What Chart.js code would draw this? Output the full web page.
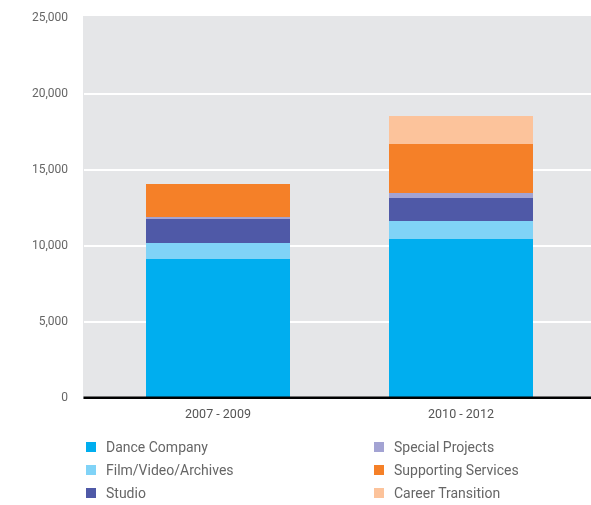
<!DOCTYPE html>
<html lang="en">
<head>
  <meta charset="UTF-8">
  <title>Funding by program</title>
  <style>
    html, body { margin: 0; padding: 0; background: #fff; }
    .wrap { position: relative; width: 591px; height: 505px; }
    #myChart { position: absolute; left: 0; top: 0; }
    .legend {
      position: absolute; left: 86px; top: 438px; width: 505px;
      display: grid; grid-template-columns: 288px 200px; grid-auto-flow: column;
      grid-template-rows: repeat(3, 23px);
      font-family: Roboto, "DejaVu Sans", sans-serif; font-size: 14px; color: #666;
    }
    .legend div { display: flex; align-items: center; height: 18px; }
    .legend span.box { width: 10px; height: 10px; margin-right: 10px; display: inline-block; }
  </style>
</head>
<body>
  <div class="wrap">
    <canvas id="myChart" width="591" height="505"></canvas>
    <div class="legend" id="legend"></div>
  </div>
<script src="https://cdn.jsdelivr.net/npm/chart.js@4.4.0/dist/chart.umd.min.js"></script>
<script>
const periods = ['2007 - 2009', '2010 - 2012'];
const seriesNames = ['Dance Company', 'Film/Video/Archives', 'Studio', 'Special Projects', 'Supporting Services', 'Career Transition'];
const danceCompany = [9140, 10460];
const filmVideo = [1060, 1180];
const studio = [1580, 1520];
const specialProjects = [130, 330];
const supportingServices = [2170, 3220];
const careerTransition = [0, 1840];
const yTicks = [0, 5000, 10000, 15000, 20000, 25000];
const colors = ['#00aeef', '#80d3f7', '#4f59a7', '#a3a3d3', '#f58028', '#fcc39b'];

const values = [danceCompany, filmVideo, studio, specialProjects, supportingServices, careerTransition];

// gray panel, white grid lines and the black base line run wider than the bars' area
const backdrop = {
  id: 'backdrop',
  beforeDatasetsDraw(chart) {
    const { ctx, chartArea, scales } = chart;
    const left = chartArea.left - 13.5;
    const right = chart.width;
    ctx.save();
    ctx.fillStyle = '#e5e6e8';
    ctx.fillRect(left, chartArea.top - 2, right - left, chartArea.bottom - chartArea.top + 2);
    ctx.strokeStyle = '#ffffff';
    ctx.lineWidth = 2;
    yTicks.forEach(v => {
      if (v === 0 || v === 25000) return;
      const y = Math.round(scales.y.getPixelForValue(v));
      ctx.beginPath();
      ctx.moveTo(left + 1, y);
      ctx.lineTo(right, y);
      ctx.stroke();
    });
    ctx.restore();
  },
  afterDatasetsDraw(chart) {
    const { ctx, chartArea, scales } = chart;
    const y = scales.y.getPixelForValue(0);
    ctx.save();
    ctx.fillStyle = '#c8c9cb';
    ctx.fillRect(chartArea.left - 13, y, chart.width, 1);
    ctx.fillStyle = '#000';
    ctx.fillRect(chartArea.left - 13, y - 1.5, chart.width, 2.5);
    ctx.restore();
  }
};

const ctx = document.getElementById('myChart').getContext('2d');
const chart = new Chart(ctx, {
  type: 'bar',
  data: {
    labels: periods,
    datasets: seriesNames.map((name, i) => ({
      label: name,
      data: values[i],
      backgroundColor: colors[i],
      borderWidth: 0,
      barPercentage: 1,
      categoryPercentage: 144 / 243
    }))
  },
  options: {
    responsive: false,
    animation: false,
    layout: { padding: { top: 18, right: 8.5, bottom: 77, left: 0 } },
    plugins: { legend: { display: false }, tooltip: { enabled: false } },
    scales: {
      x: {
        stacked: true,
        grid: { display: false, drawTicks: false },
        border: { display: false },
        ticks: { padding: 9, color: '#555', font: { family: 'Roboto', size: 12.5 } },
        afterFit(s) { s.height = 30; }
      },
      y: {
        stacked: true,
        min: 0,
        max: 25000,
        grid: { display: false, drawTicks: true, tickLength: 28.5 },
        border: { display: false },
        afterBuildTicks(s) { s.ticks = yTicks.map(v => ({ value: v })); },
        ticks: {
          padding: 0,
          color: '#666',
          font: { family: 'Roboto', size: 12 },
          callback: v => v.toLocaleString('en-US')
        },
        afterFit(s) { s.width = 96.5; }
      }
    }
  },
  plugins: [backdrop]
});

// legend in two columns, filled down each column
const legend = document.getElementById('legend');
seriesNames.forEach((name, i) => {
  const item = document.createElement('div');
  item.innerHTML = '<span class="box" style="background:' + colors[i] + '"></span>' + name;
  legend.appendChild(item);
});
</script>
</body>
</html>
